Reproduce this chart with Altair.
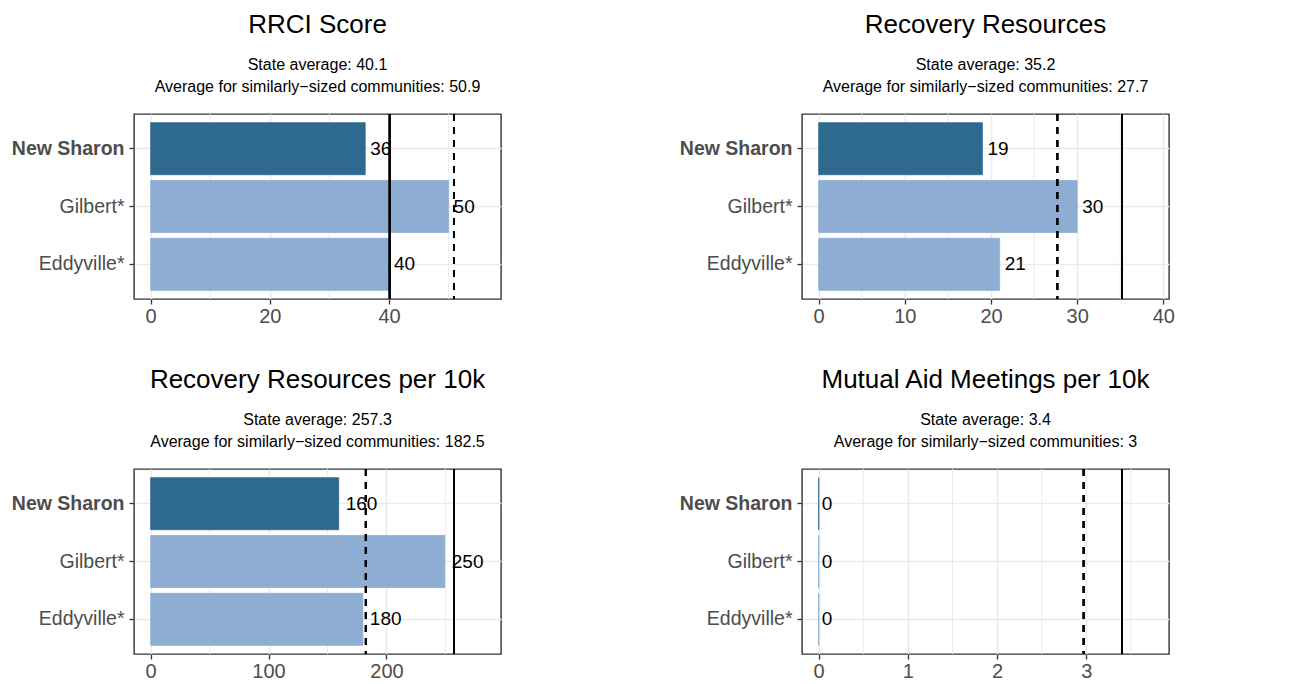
import altair as alt
import pandas as pd

FONT = "Liberation Sans Narrow, Arial Narrow, Liberation Sans, Arial, sans-serif"

communities = ["New Sharon", "Gilbert*", "Eddyville*"]
highlight = "New Sharon"

titles = ["RRCI Score", "Recovery Resources", "Recovery Resources per 10k",
          "Mutual Aid Meetings per 10k"]
values = [
    [36, 50, 40],
    [19, 30, 21],
    [159.5, 249.5, 180],
    [0, 0, 0],
]
value_labels = [
    ["36", "50", "40"],
    ["19", "30", "21"],
    ["160", "250", "180"],
    ["0", "0", "0"],
]
state_avg = [40.1, 35.2, 257.3, 3.4]
state_label = ["40.1", "35.2", "257.3", "3.4"]
similar_avg = [50.9, 27.7, 182.5, 2.97]
similar_label = ["50.9", "27.7", "182.5", "3"]
major_ticks = [[0, 20, 40], [0, 10, 20, 30, 40], [0, 100, 200], [0, 1, 2, 3]]
minor_ticks = [[10, 30, 50], [5, 15, 25, 35], [50, 150, 250], [0.5, 1.5, 2.5, 3.5]]

DARK = "#2E6A8F"
LIGHT = "#8DAED2"
GRID = "#EBEBEB"
BORDER = "#333333"

W, H = 367, 185


def panel(i):
    df = pd.DataFrame({
        "community": communities,
        "value": values[i],
        "label": value_labels[i],
    })
    upper = 1.1 * max(max(values[i]), state_avg[i], similar_avg[i])
    xscale = alt.Scale(domain=[-0.05 * upper, 1.05 * upper], nice=False, zero=False)
    yscale = alt.Scale(domain=communities, paddingInner=0.1, paddingOuter=0.15)

    xaxis = alt.Axis(values=major_ticks[i], grid=True, gridColor=GRID, gridWidth=1.6,
                     domain=False, ticks=True, tickColor=BORDER, tickSize=5,
                     tickWidth=1.3, labelFont=FONT, labelFontSize=20,
                     labelColor="#4D4D4D", labelPadding=2, title=None,
                     labelFlush=False, labelOverlap=False)
    yaxis = alt.Axis(grid=True, gridColor=GRID, gridWidth=1.6, domain=False,
                     ticks=True, tickColor=BORDER, tickSize=5, tickWidth=1.3,
                     labelFont=FONT, labelFontSize=19.5, labelColor="#4D4D4D",
                     labelPadding=5, title=None,
                     labelFontWeight={"expr": "datum.value == 'New Sharon' ? 'bold' : 'normal'"})

    minor = alt.Chart(pd.DataFrame({"m": minor_ticks[i]})).mark_rule(
        color=GRID, strokeWidth=1
    ).encode(x=alt.X("m:Q", scale=xscale, axis=xaxis))

    bars = alt.Chart(df).mark_bar(strokeWidth=0.8).encode(
        x=alt.X("value:Q", scale=xscale, axis=xaxis),
        y=alt.Y("community:N", scale=yscale, sort=communities, axis=yaxis),
        color=alt.condition(f"datum.community == '{highlight}'", alt.value(DARK), alt.value(LIGHT)),
        stroke=alt.condition(f"datum.community == '{highlight}'", alt.value(DARK), alt.value(LIGHT)),
    )
    dx = 1 + 2 * len(value_labels[i][0])
    text = alt.Chart(df).mark_text(align="left", baseline="middle", dx=dx,
                                   font=FONT, fontSize=19, color="black").encode(
        x=alt.X("value:Q", scale=xscale, axis=xaxis),
        y=alt.Y("community:N", scale=yscale, sort=communities, axis=yaxis),
        text="label:N",
    )
    state_rule = alt.Chart(df).mark_rule(color="black", strokeWidth=2).encode(
        x=alt.datum(state_avg[i], scale=xscale, axis=xaxis)
    )
    similar_rule = alt.Chart(df).mark_rule(color="black", strokeWidth=2,
                                           strokeDash=[7, 6]).encode(
        x=alt.datum(similar_avg[i], scale=xscale, axis=xaxis)
    )
    return alt.layer(minor, bars, text, state_rule, similar_rule).properties(
        width=W, height=H,
        view=alt.ViewBackground(stroke=BORDER, strokeWidth=1.4, fill="white"),
        title=alt.TitleParams(
            text=titles[i],
            subtitle=[f"State average: {state_label[i]}",
                      f"Average for similarly\u2212sized communities: {similar_label[i]}"],
            anchor="middle", frame="group", font=FONT, fontSize=26,
            fontWeight="normal", color="black", subtitleFont=FONT,
            subtitleFontSize=16, subtitleColor="black", subtitleLineHeight=22,
            subtitlePadding=19, offset=18,
        ),
    )


chart = alt.concat(
    panel(0), panel(1), panel(2), panel(3), columns=2,
    spacing={"row": 170, "column": 301}, bounds="flush",
).properties(
    padding={"top": 3, "left": 2, "right": 0, "bottom": 0},
).configure_view(
    stroke=BORDER, strokeWidth=1.4
).configure(background="white")

chart.save("out.html", embed_options={"renderer": "svg", "actions": False})
